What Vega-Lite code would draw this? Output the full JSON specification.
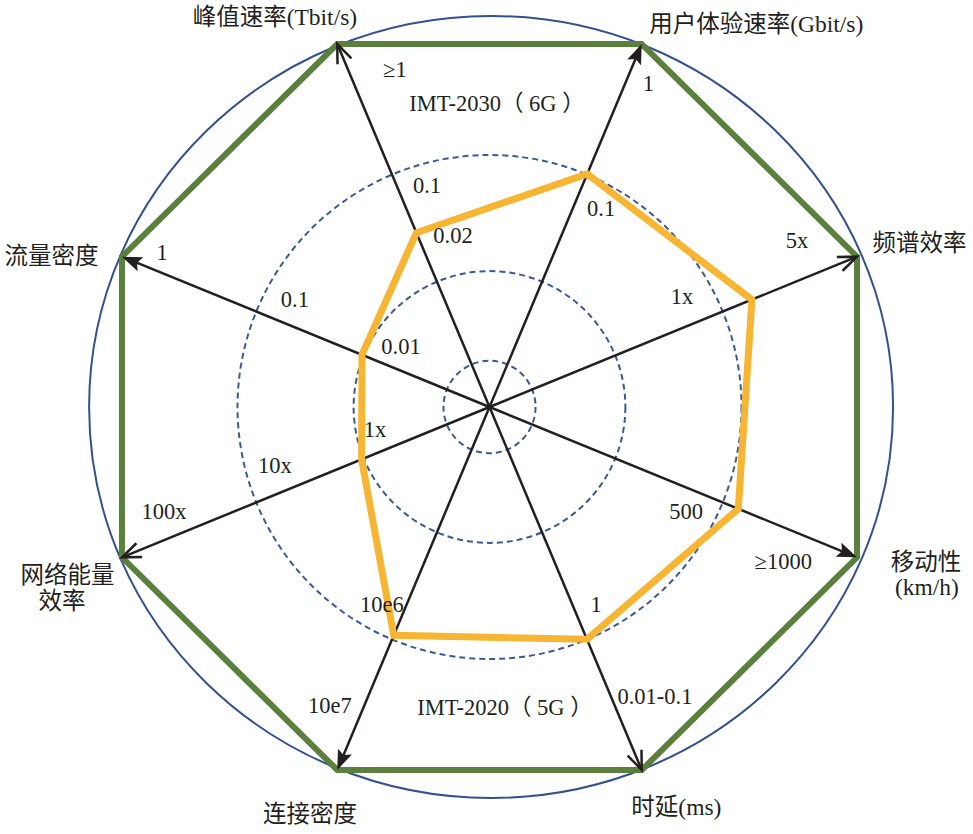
{
  "$schema": "https://vega.github.io/schema/vega-lite/v6.json",
  "description": "IMT-2030 (6G) vs IMT-2020 (5G) key capability radar",
  "width": 973,
  "height": 834,
  "autosize": {"type": "fit", "contains": "padding"},
  "padding": 0,
  "background": "white",
  "config": {"view": {"stroke": null}},
  "datasets": {
    "axes": [
      {"metric": "峰值速率", "angle": 337.5, "imt2030": 1, "imt2020": 0.48, "head": "open"},
      {"metric": "用户体验速率", "angle": 22.5, "imt2030": 1, "imt2020": 0.642, "head": "filled"},
      {"metric": "频谱效率", "angle": 67.5, "imt2030": 1, "imt2020": 0.714, "head": "open"},
      {"metric": "移动性", "angle": 112.5, "imt2030": 1, "imt2020": 0.677, "head": "filled"},
      {"metric": "时延", "angle": 157.5, "imt2030": 1, "imt2020": 0.64, "head": "open"},
      {"metric": "连接密度", "angle": 202.5, "imt2030": 1, "imt2020": 0.629, "head": "filled"},
      {"metric": "网络能量效率", "angle": 247.5, "imt2030": 1, "imt2020": 0.348, "head": "open"},
      {"metric": "流量密度", "angle": 292.5, "imt2030": 1, "imt2020": 0.347, "head": "filled"}
    ],
    "rings": [{"r": 0.638}, {"r": 0.344}, {"r": 0.1165}],
    "labels": [
      {"text": "≥1", "r": 0.89, "angle": 344.5, "kind": "tick"},
      {"text": "IMT-2030（ 6G ）", "r": 0.771, "angle": 1.4, "kind": "tick"},
      {"text": "1", "r": 0.914, "angle": 25.9, "kind": "tick"},
      {"text": "0.1", "r": 0.584, "angle": 344.4, "kind": "tick"},
      {"text": "0.02", "r": 0.445, "angle": 348.1, "kind": "tick"},
      {"text": "0.1", "r": 0.577, "angle": 29.1, "kind": "tick"},
      {"text": "5x", "r": 0.881, "angle": 61.3, "kind": "tick"},
      {"text": "1x", "r": 0.559, "angle": 59.9, "kind": "tick"},
      {"text": "1", "r": 0.912, "angle": 295.5, "kind": "tick"},
      {"text": "0.1", "r": 0.56, "angle": 299.1, "kind": "tick"},
      {"text": "0.01", "r": 0.27, "angle": 304.5, "kind": "tick"},
      {"text": "1x", "r": 0.294, "angle": 258.5, "kind": "tick"},
      {"text": "10x", "r": 0.56, "angle": 254.4, "kind": "tick"},
      {"text": "100x", "r": 0.861, "angle": 251.9, "kind": "tick"},
      {"text": "500", "r": 0.562, "angle": 118.4, "kind": "tick"},
      {"text": "≥1000", "r": 0.837, "angle": 118.1, "kind": "tick"},
      {"text": "10e6", "r": 0.572, "angle": 208.2, "kind": "tick"},
      {"text": "1", "r": 0.571, "angle": 152.0, "kind": "tick"},
      {"text": "10e7", "r": 0.86, "angle": 207.8, "kind": "tick"},
      {"text": "IMT-2020（ 5G ）", "r": 0.767, "angle": 177.1, "kind": "tick"},
      {"text": "0.01-0.1", "r": 0.847, "angle": 150.6, "kind": "tick"},
      {"text": "峰值速率(Tbit/s)", "r": 1.127, "angle": 331.4, "kind": "title"},
      {"text": "用户体验速率(Gbit/s)", "r": 1.181, "angle": 34.6, "kind": "title"},
      {"text": "频谱效率", "r": 1.158, "angle": 69.0, "kind": "title"},
      {"text": "移动性", "r": 1.167, "angle": 109.9, "kind": "title"},
      {"text": "(km/h)", "r": 1.192, "angle": 112.7, "kind": "title"},
      {"text": "时延(ms)", "r": 1.124, "angle": 155.3, "kind": "title"},
      {"text": "连接密度", "r": 1.132, "angle": 203.5, "kind": "title"},
      {"text": "网络能量", "r": 1.145, "angle": 247.9, "kind": "title"},
      {"text": "效率", "r": 1.184, "angle": 245.2, "kind": "title"},
      {"text": "流量密度", "r": 1.165, "angle": 289.1, "kind": "title"}
    ]
  },
  "layer": [
    {
      "data": {"values": [{"ring": "outer"}]},
      "mark": {
        "type": "point",
        "shape": "M-1,0A1,0.9726,0,1,1,1,0A1,0.9726,0,1,1,-1,0Z",
        "size": 646416,
        "filled": false,
        "stroke": "#33508f",
        "strokeWidth": 2,
        "opacity": 1
      },
      "encoding": {
        "x": {"datum": 0.004, "type": "quantitative", "scale": {"domain": [-1.2305, 1.2154], "nice": false, "zero": false}, "axis": null},
        "y": {"datum": 0, "type": "quantitative", "scale": {"domain": [-1.0868, 1.0359], "nice": false, "zero": false}, "axis": null}
      }
    },
    {
      "data": {"name": "rings"},
      "mark": {"type": "point", "shape": "circle", "filled": false, "stroke": "#3b5a94", "strokeWidth": 2, "strokeDash": [6, 4], "opacity": 1},
      "encoding": {
        "x": {"datum": 0, "type": "quantitative", "scale": {"domain": [-1.2305, 1.2154], "nice": false, "zero": false}, "axis": null},
        "y": {"datum": 0, "type": "quantitative", "scale": {"domain": [-1.0868, 1.0359], "nice": false, "zero": false}, "axis": null},
        "size": {"field": "r", "type": "quantitative", "scale": {"type": "pow", "exponent": 2, "domain": [0, 1], "range": [0, 624100]}, "legend": null}
      }
    },
    {
      "data": {"name": "axes"},
      "transform": [
        {"calculate": "sin(datum.angle * PI / 180)", "as": "x"},
        {"calculate": "cos(datum.angle * PI / 180)", "as": "y"}
      ],
      "mark": {"type": "rule", "color": "#231f20", "strokeWidth": 2.5},
      "encoding": {
        "x": {"field": "x", "type": "quantitative", "scale": {"domain": [-1.2305, 1.2154], "nice": false, "zero": false}, "axis": null},
        "y": {"field": "y", "type": "quantitative", "scale": {"domain": [-1.0868, 1.0359], "nice": false, "zero": false}, "axis": null},
        "x2": {"datum": 0},
        "y2": {"datum": 0}
      }
    },
    {
      "data": {"name": "axes"},
      "transform": [
        {"calculate": "datum.imt2030 * sin(datum.angle * PI / 180)", "as": "x"},
        {"calculate": "datum.imt2030 * cos(datum.angle * PI / 180)", "as": "y"}
      ],
      "mark": {"type": "line", "interpolate": "linear-closed", "color": "#5b7f3d", "strokeWidth": 6, "strokeJoin": "miter"},
      "encoding": {
        "x": {"field": "x", "type": "quantitative", "scale": {"domain": [-1.2305, 1.2154], "nice": false, "zero": false}, "axis": null},
        "y": {"field": "y", "type": "quantitative", "scale": {"domain": [-1.0868, 1.0359], "nice": false, "zero": false}, "axis": null},
        "order": {"field": "angle", "type": "quantitative"}
      }
    },
    {
      "data": {"name": "axes"},
      "transform": [
        {"calculate": "datum.imt2020 * sin(datum.angle * PI / 180)", "as": "x"},
        {"calculate": "datum.imt2020 * cos(datum.angle * PI / 180)", "as": "y"}
      ],
      "mark": {"type": "line", "interpolate": "linear-closed", "color": "#f6b532", "strokeWidth": 7, "strokeJoin": "miter"},
      "encoding": {
        "x": {"field": "x", "type": "quantitative", "scale": {"domain": [-1.2305, 1.2154], "nice": false, "zero": false}, "axis": null},
        "y": {"field": "y", "type": "quantitative", "scale": {"domain": [-1.0868, 1.0359], "nice": false, "zero": false}, "axis": null},
        "order": {"field": "angle", "type": "quantitative"}
      }
    },
    {
      "data": {"name": "axes"},
      "transform": [
        {"filter": "datum.head == 'filled'"},
        {"calculate": "sin(datum.angle * PI / 180)", "as": "x"},
        {"calculate": "cos(datum.angle * PI / 180)", "as": "y"}
      ],
      "mark": {"type": "point", "shape": "M0,0L-0.6,1.6L0,1.3L0.6,1.6Z", "size": 625, "filled": true, "color": "#231f20", "opacity": 1},
      "encoding": {
        "x": {"field": "x", "type": "quantitative", "scale": {"domain": [-1.2305, 1.2154], "nice": false, "zero": false}, "axis": null},
        "y": {"field": "y", "type": "quantitative", "scale": {"domain": [-1.0868, 1.0359], "nice": false, "zero": false}, "axis": null},
        "angle": {"field": "angle", "type": "quantitative", "scale": null}
      }
    },
    {
      "data": {"name": "axes"},
      "transform": [
        {"filter": "datum.head == 'open'"},
        {"calculate": "sin(datum.angle * PI / 180)", "as": "x"},
        {"calculate": "cos(datum.angle * PI / 180)", "as": "y"}
      ],
      "mark": {"type": "point", "shape": "M-0.6,1.5L0,0L0.6,1.5", "size": 625, "filled": false, "stroke": "#231f20", "strokeWidth": 2.5, "opacity": 1},
      "encoding": {
        "x": {"field": "x", "type": "quantitative", "scale": {"domain": [-1.2305, 1.2154], "nice": false, "zero": false}, "axis": null},
        "y": {"field": "y", "type": "quantitative", "scale": {"domain": [-1.0868, 1.0359], "nice": false, "zero": false}, "axis": null},
        "angle": {"field": "angle", "type": "quantitative", "scale": null}
      }
    },
    {
      "data": {"name": "labels"},
      "transform": [
        {"filter": "datum.kind == 'tick'"},
        {"calculate": "datum.r * sin(datum.angle * PI / 180)", "as": "x"},
        {"calculate": "datum.r * cos(datum.angle * PI / 180)", "as": "y"}
      ],
      "mark": {"type": "text", "font": "'Liberation Serif', 'Noto Sans CJK SC', serif", "fontSize": 22.5, "color": "#231f20", "align": "center", "baseline": "middle"},
      "encoding": {
        "x": {"field": "x", "type": "quantitative", "scale": {"domain": [-1.2305, 1.2154], "nice": false, "zero": false}, "axis": null},
        "y": {"field": "y", "type": "quantitative", "scale": {"domain": [-1.0868, 1.0359], "nice": false, "zero": false}, "axis": null},
        "text": {"field": "text", "type": "nominal"}
      }
    },
    {
      "data": {"name": "labels"},
      "transform": [
        {"filter": "datum.kind == 'title'"},
        {"calculate": "datum.r * sin(datum.angle * PI / 180)", "as": "x"},
        {"calculate": "datum.r * cos(datum.angle * PI / 180)", "as": "y"}
      ],
      "mark": {"type": "text", "font": "'Liberation Serif', 'Noto Sans CJK SC', serif", "fontSize": 23.5, "color": "#231f20", "align": "center", "baseline": "middle"},
      "encoding": {
        "x": {"field": "x", "type": "quantitative", "scale": {"domain": [-1.2305, 1.2154], "nice": false, "zero": false}, "axis": null},
        "y": {"field": "y", "type": "quantitative", "scale": {"domain": [-1.0868, 1.0359], "nice": false, "zero": false}, "axis": null},
        "text": {"field": "text", "type": "nominal"}
      }
    }
  ]
}
